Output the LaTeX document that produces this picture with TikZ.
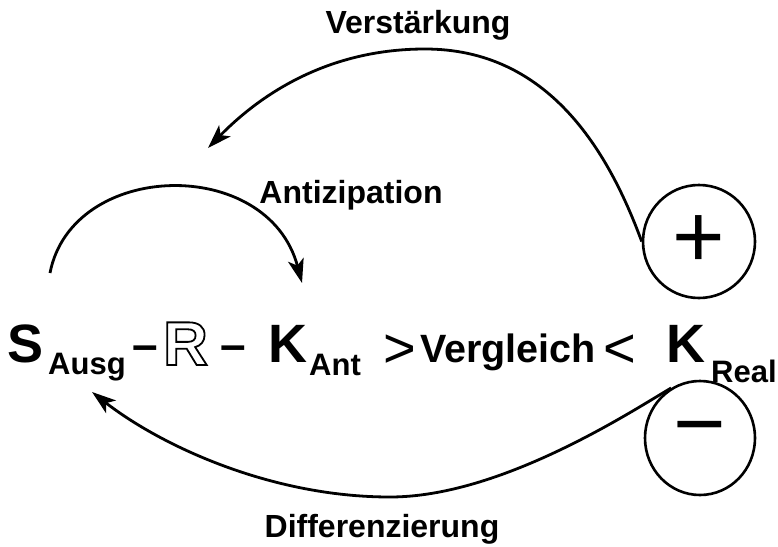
\documentclass[tikz,border=0pt]{standalone}
\usepackage{fontspec}
\setmainfont{Liberation Sans}
\usetikzlibrary{arrows.meta,shapes.geometric}
\begin{document}
\begin{tikzpicture}[x=1pt,y=-1pt,
  lbl/.style={font=\fontsize{32}{36}\selectfont\bfseries, inner sep=0, anchor=base},
  big/.style={font=\fontsize{54}{60}\selectfont\bfseries, inner sep=0, anchor=base west},
  sub/.style={font=\fontsize{31}{36}\selectfont\bfseries, inner sep=0, anchor=base west},
  rel/.style={font=\fontsize{56}{60}\selectfont, inner sep=0, anchor=base west},
  dashsym/.style={font=\fontsize{46}{50}\selectfont\bfseries, inner sep=0, anchor=base west},
  sign/.style={draw, ellipse, line width=2.6pt, inner sep=0, font=\fontsize{90}{90}\selectfont},
  conn/.style={line width=2.8pt, -{Stealth[length=24pt,width=16pt,inset=6pt]}},
]
\useasboundingbox (0,0) rectangle (778,546);
\node[lbl] (verst) at (418,33) {Verstärkung};
\node[lbl] (antiz) at (351,203) {Antizipation};
\node[lbl] (diff) at (382,537) {Differenzierung};
\node[big] (S) at (7,362) {S};
\node[sub] (ausg) at (48,374) {Ausg};
\node[dashsym] (d1) at (132,360) {–};
\node[font=\fontsize{62}{66}\selectfont\bfseries, inner sep=0, anchor=base west] (R) at (163,365)
  {\special{pdf:literal direct q 1 Tr 1.8 w}R\special{pdf:literal direct 0 Tr Q}};
\node[dashsym] (d2) at (220,360) {–};
\node[big] (K1) at (268,362) {K};
\node[sub] (ant) at (309,375) {Ant};
\node[rel] (gt) at (383,367) {>};
\node[font=\fontsize{39.5}{44}\selectfont\bfseries, inner sep=0, anchor=base west] (vgl) at (420,362) {Vergleich};
\node[rel] (lt) at (603,367) {<};
\node[big] (K2) at (666,362) {K};
\node[sub] (real) at (711,382) {Real};
\node[sign, minimum width=112pt, minimum height=113pt] (plus) at (699,241.5) {+};
\node[sign, minimum width=110pt, minimum height=114pt] (minus) at (700,438) {−};
\coordinate (vtop) at (425,49);
\coordinate (vtip) at (208,148);
\draw[conn] (plus.west) .. controls (608,150) and (548,49) .. (vtop) .. controls (322,49) and (255,100) .. (vtip);
\coordinate (astart) at (50,273);
\coordinate (atip) at (302,283);
\draw[conn] (astart) .. controls (72,160) and (268,155) .. (atip);
\coordinate (dbot) at (390,497);
\coordinate (dtip) at (92,392);
\draw[conn] (minus.120) .. controls (629,413) and (500,497) .. (dbot) .. controls (270,497) and (160,445) .. (dtip);
\end{tikzpicture}
\end{document}
